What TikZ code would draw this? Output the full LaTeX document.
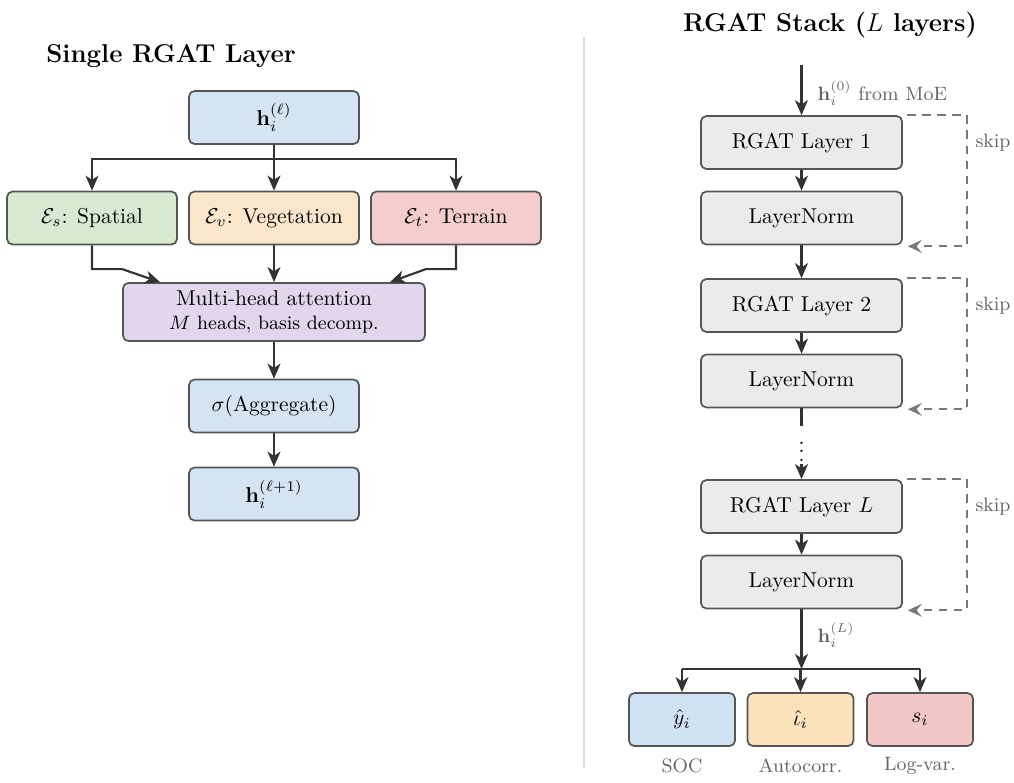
\documentclass[tikz,border=0pt]{standalone}
\usepackage{amsmath,amssymb}
\usetikzlibrary{arrows.meta,calc}
\definecolor{cblue}{RGB}{213,228,243}
\definecolor{cblueo}{RGB}{207,226,243}
\definecolor{cgreen}{RGB}{214,234,210}
\definecolor{corange}{RGB}{251,229,203}
\definecolor{corangeo}{RGB}{251,226,186}
\definecolor{cred}{RGB}{244,205,204}
\definecolor{credo}{RGB}{242,199,198}
\definecolor{cpurple}{RGB}{226,214,236}
\definecolor{cgray}{RGB}{235,235,235}
\definecolor{cborder}{RGB}{85,85,85}
\definecolor{carrow}{RGB}{51,51,51}
\definecolor{clabel}{RGB}{100,100,100}
\definecolor{cskip}{RGB}{120,120,120}
\definecolor{csep}{RGB}{220,220,220}
\begin{document}
\begin{tikzpicture}[x=0.465pt,y=-0.465pt,
  box/.style={draw=cborder, line width=0.8pt, rounded corners=2.5pt, inner sep=2pt, align=center, text=black},
  std/.style={box, minimum width=79pt, minimum height=24.6pt},
  gbox/.style={box, fill=cgray, minimum width=93.5pt, minimum height=24.6pt},
  obox/.style={box, minimum width=49.3pt, minimum height=24.6pt},
  arr/.style={-{Stealth[length=7pt,width=6pt,inset=2pt]}, line width=1pt, draw=carrow},
  plainline/.style={line width=1pt, draw=carrow},
  skiparr/.style={-{Stealth[length=6.5pt,width=6pt,inset=2.5pt]}, line width=0.8pt, draw=cskip, dash pattern=on 4pt off 3pt},
  lbl/.style={inner sep=1pt, text=clabel, font=\small},
  title/.style={font=\large\bfseries, anchor=base, inner sep=0pt}
]
\useasboundingbox (0,0) rectangle (1014,782);

% ---------- left panel ----------
\node[title] (tl) at (171,62) {Single RGAT Layer};
\node[std, fill=cblue] (hin) at (274,117.5) {$\mathbf{h}_i^{(\ell)}$};
\node[std, fill=cgreen] (sp) at (92,218) {$\mathcal{E}_s$: Spatial};
\node[std, fill=corange] (veg) at (274,218) {$\mathcal{E}_v$: Vegetation};
\node[std, fill=cred] (ter) at (456,218) {$\mathcal{E}_t$: Terrain};
\node[box, fill=cpurple, minimum width=140.4pt, minimum height=27pt] (mh) at (274,312)
  {Multi-head attention\\[-1pt]{\small $M$ heads, basis decomp.}};
\node[std, fill=cblue] (agg) at (274,406) {$\sigma$(Aggregate)};
\node[std, fill=cblue] (hout) at (274,494) {$\mathbf{h}_i^{(\ell+1)}$};

\coordinate (split) at ($(hin.south)+(0,14)$);
\draw[plainline] (hin.south) -- (split);
\draw[arr] (split) -| (sp.north);
\draw[arr] (split) -| (ter.north);
\draw[arr] (split) -- (veg.north);
\draw[arr] (sp.south) |- ($(mh.north west)+(0,-13)$) -- ($(mh.north)+(-114,0)$);
\draw[arr] (ter.south) |- ($(mh.north east)+(0,-13)$) -- ($(mh.north)+(116,0)$);
\draw[arr] (veg) -- (mh);
\draw[arr] (mh) -- (agg);
\draw[arr] (agg) -- (hout);

% ---------- separator ----------
\draw[csep, line width=0.9pt] (584,37) -- (584,768);

% ---------- right panel ----------
\node[title] (tr) at (830,31) {RGAT Stack ($L$ layers)};
\node[gbox] (r1) at (801.5,142.5) {RGAT Layer 1};
\node[gbox] (n1) at (801.5,218) {LayerNorm};
\node[gbox] (r2) at (801.5,305.5) {RGAT Layer 2};
\node[gbox] (n2) at (801.5,381) {LayerNorm};
\node[inner sep=1pt] (dots) at (801.5,445) {$\vdots$};
\node[gbox] (rL) at (801.5,506.5) {RGAT Layer $L$};
\node[gbox] (nL) at (801.5,582) {LayerNorm};

\coordinate (in) at (801.5,65);
\draw[arr] (in) -- (r1);
\node[lbl, anchor=west] (inl) at (815,93) {$\mathbf{h}_i^{(0)}$ from MoE};
\draw[arr] (r1) -- (n1);
\draw[arr] (n1) -- (r2);
\draw[arr] (r2) -- (n2);
\draw[plainline] (n2) -- (dots);
\draw[arr] (dots) -- (rL);
\draw[arr] (rL) -- (nL);

\foreach \r/\n in {r1/n1, r2/n2, rL/nL}{
  \draw[skiparr] ($(\r.north east)+(4,0)$) -- ($(\r.north east)+(64,0)$) |- ($(\n.south east)+(5,1)$);
  \node[lbl, anchor=west] at ($(\r.east)+(70,0)$) {skip};
}

\node[obox, fill=cblueo] (o1) at (682,719.5) {$\hat{y}_i$};
\node[obox, fill=corangeo] (o2) at (800.5,719.5) {$\hat{\iota}_i$};
\node[obox, fill=credo] (o3) at (920,719.5) {$s_i$};

\coordinate (split2) at (801.5,669);
\draw[arr] (nL) -- (split2);
\node[lbl, anchor=west] (hl) at (815,635) {$\mathbf{h}_i^{(L)}$};
\draw[plainline] (o1.north |- split2) -- (o3.north |- split2);
\draw[arr] (o1.north |- split2) -- (o1.north);
\draw[arr] (o2.north |- split2) -- (o2.north);
\draw[arr] (o3.north |- split2) -- (o3.north);

\node[lbl] (l1) at (682,766) {SOC};
\node[lbl] (l2) at (800.5,766) {Autocorr.};
\node[lbl] (l3) at (920,766) {Log-var.};
\end{tikzpicture}
\end{document}
